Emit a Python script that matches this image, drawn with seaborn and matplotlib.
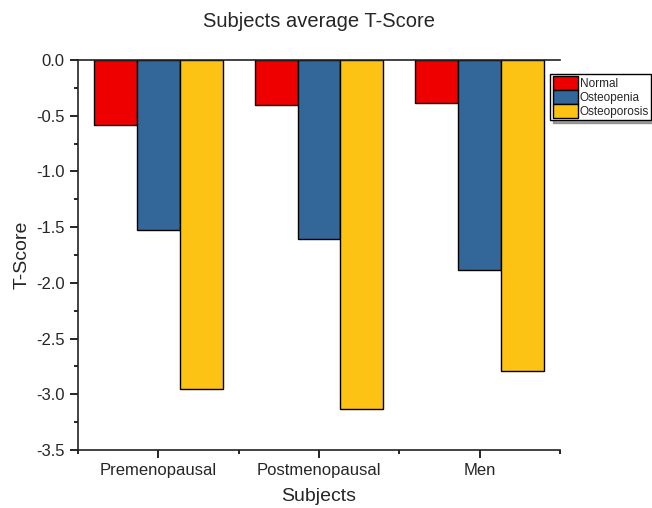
import pandas as pd
import seaborn as sns
import matplotlib.pyplot as plt
from matplotlib.ticker import MultipleLocator, FixedLocator

subjects = ['Premenopausal', 'Postmenopausal', 'Men']
groups = ['Normal', 'Osteopenia', 'Osteoporosis']
normal = [-0.58, -0.40, -0.39]
osteopenia = [-1.53, -1.61, -1.885]
osteoporosis = [-2.955, -3.135, -2.795]
colors = ['#EE0000', '#336699', '#FDC314']
yticks = [-3.5, -3.0, -2.5, -2.0, -1.5, -1.0, -0.5, 0.0]

df = pd.DataFrame({
    'Subjects': subjects * 3,
    'Group': [g for g in groups for _ in subjects],
    'T-Score': normal + osteopenia + osteoporosis,
})

sns.set_style('ticks')
plt.rcParams['font.family'] = ['Liberation Sans', 'DejaVu Sans']

fig = plt.figure(figsize=(6.52, 5.08), dpi=100)
ax = fig.add_axes([78 / 652, 58 / 508, 482 / 652, 390 / 508])

sns.barplot(data=df, x='Subjects', y='T-Score', hue='Group', hue_order=groups,
            order=subjects, palette=colors, width=0.8, gap=0,
            edgecolor='black', linewidth=1, saturation=1, ax=ax)

ax.set_yticks(yticks)
ax.set_yticklabels([f'{v:.1f}' for v in yticks])
ax.yaxis.set_minor_locator(MultipleLocator(0.25))
ax.xaxis.set_minor_locator(FixedLocator([-0.5, 0.5, 1.5, 2.5]))
ax.set_xlim(-0.5, 2.5)
ax.set_ylim(-3.5, 0)
ax.tick_params(axis='both', which='major', direction='out', length=6, width=1.2,
               labelsize=12, color='black')
ax.tick_params(axis='both', which='minor', direction='out', length=3, width=1.2,
               color='black')

for side in ['left', 'bottom', 'top']:
    ax.spines[side].set_linewidth(1.2)
    ax.spines[side].set_color('#222222')
ax.spines['right'].set_visible(False)

ax.set_title('Subjects average T-Score', fontsize=14.5, pad=24)
ax.set_xlabel('Subjects', fontsize=14, labelpad=7)
ax.set_ylabel('T-Score', fontsize=14, labelpad=4)

handles, labels = ax.get_legend_handles_labels()
ax.legend(handles, labels, loc='upper left', bbox_to_anchor=(0.98, 0.965),
          fontsize=8.5, frameon=True, fancybox=False, shadow=True,
          edgecolor='black', framealpha=1, borderpad=0.2, labelspacing=0.0,
          handlelength=2.1, handleheight=1.45, handletextpad=0.2,
          borderaxespad=0)

fig.savefig('out.png', dpi=100)
